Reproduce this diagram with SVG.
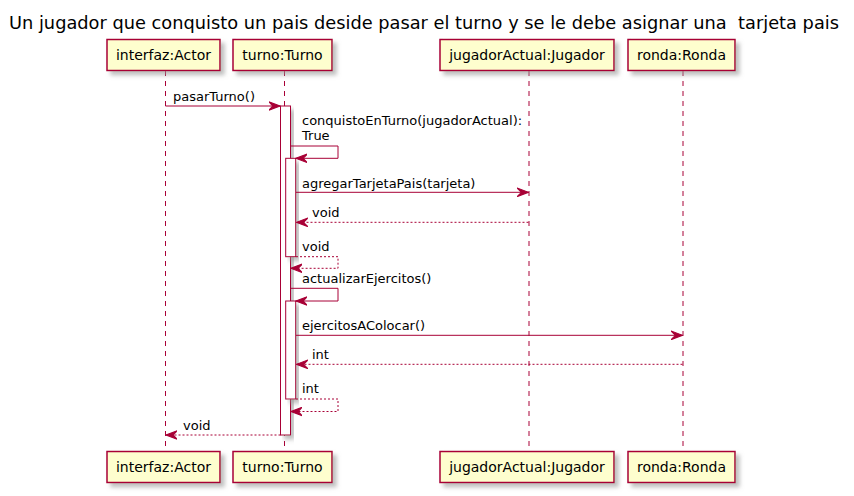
<svg xmlns="http://www.w3.org/2000/svg" width="854" height="496" viewBox="0 0 854 496">
<defs>
<filter id="sh" x="-20%" y="-20%" width="150%" height="160%">
<feGaussianBlur in="SourceAlpha" stdDeviation="2"/>
<feOffset dx="4" dy="4" result="b"/>
<feColorMatrix in="b" type="matrix" values="0 0 0 0 0.3  0 0 0 0 0.3  0 0 0 0 0.3  0 0 0 0.6 0"/>
<feMerge><feMergeNode/><feMergeNode in="SourceGraphic"/></feMerge>
</filter>
<marker id="ah" markerUnits="userSpaceOnUse" markerWidth="12" markerHeight="10" viewBox="0 0 11 8" refX="10.5" refY="4" orient="auto">
<path d="M0,0 L10.5,4 L0,8 L4,4 Z" fill="#A80036" stroke="#A80036" stroke-width="1"/>
</marker>
</defs>
<style>
text{font-family:"DejaVu Sans","Liberation Sans",sans-serif;fill:#000}
.pbox{fill:#FEFECE;stroke:#A80036;stroke-width:1.5;filter:url(#sh)}
.pname{font-size:14px;text-anchor:middle}
.life{stroke:#A80036;stroke-width:1;stroke-dasharray:5,5;fill:none}
.act{fill:#fff;stroke:#A80036;stroke-width:1;filter:url(#sh)}
.msg{stroke:#A80036;stroke-width:1;fill:none;marker-end:url(#ah)}
.ret{stroke-dasharray:2,2}
.lbl{font-size:13px}
</style>
<rect width="854" height="496" fill="#fff"/>
<text x="424" y="29" font-size="18" text-anchor="middle" textLength="830" lengthAdjust="spacingAndGlyphs" xml:space="preserve" style="white-space:pre">Un jugador que conquisto un pais deside pasar el turno y se le debe asignar una  tarjeta pais</text>

<g id="interfaz">
<line class="life" x1="165.5" y1="71" x2="165.5" y2="451"/>
<rect class="pbox" x="107" y="39.5" width="113" height="31"/>
<text class="pname" x="163.5" y="60">interfaz:Actor</text>
<rect class="pbox" x="107" y="451.5" width="113" height="31"/>
<text class="pname" x="163.5" y="472">interfaz:Actor</text>
</g>
<g id="turno">
<line class="life" x1="284.5" y1="71" x2="284.5" y2="451"/>
<rect class="pbox" x="233" y="39.5" width="99" height="31"/>
<text class="pname" x="282.5" y="60">turno:Turno</text>
<rect class="pbox" x="233" y="451.5" width="99" height="31"/>
<text class="pname" x="282.5" y="472">turno:Turno</text>
</g>
<g id="jugadorActual">
<line class="life" x1="529" y1="71" x2="529" y2="451"/>
<rect class="pbox" x="440" y="39.5" width="174" height="31"/>
<text class="pname" x="527" y="60">jugadorActual:Jugador</text>
<rect class="pbox" x="440" y="451.5" width="174" height="31"/>
<text class="pname" x="527" y="472">jugadorActual:Jugador</text>
</g>
<g id="ronda">
<line class="life" x1="683" y1="71" x2="683" y2="451"/>
<rect class="pbox" x="628" y="39.5" width="107" height="31"/>
<text class="pname" x="681.5" y="60">ronda:Ronda</text>
<rect class="pbox" x="628" y="451.5" width="107" height="31"/>
<text class="pname" x="681.5" y="472">ronda:Ronda</text>
</g>

<g id="activations">
<rect class="act" x="280.5" y="106" width="10" height="329"/>
<rect class="act" x="285.7" y="158.3" width="10" height="98.4"/>
<rect class="act" x="285.7" y="301" width="10" height="98"/>
</g>

<g id="connectors">
<line class="msg" x1="165.5" y1="106" x2="280" y2="106"/>
<text class="lbl" x="173" y="101">pasarTurno()</text>

<polyline class="msg" points="290.5,146 338,146 338,158.3 296,158.3"/>
<text class="lbl" x="302" y="125">conquistoEnTurno(jugadorActual):</text>
<text class="lbl" x="302" y="140">True</text>

<line class="msg" x1="296" y1="192.3" x2="528.5" y2="192.3"/>
<text class="lbl" x="302" y="188">agregarTarjetaPais(tarjeta)</text>

<line class="msg ret" x1="528.5" y1="222.3" x2="296.5" y2="222.3"/>
<text class="lbl" x="312" y="217">void</text>

<polyline class="msg ret" points="296,256.7 338,256.7 338,268.3 291,268.3"/>
<text class="lbl" x="302" y="251">void</text>

<polyline class="msg" points="290.5,288.3 338,288.3 338,301 296,301"/>
<text class="lbl" x="302" y="283">actualizarEjercitos()</text>

<line class="msg" x1="296" y1="335.3" x2="682.5" y2="335.3"/>
<text class="lbl" x="302" y="330">ejercitosAColocar()</text>

<line class="msg ret" x1="682.5" y1="364.3" x2="296.5" y2="364.3"/>
<text class="lbl" x="312" y="359">int</text>

<polyline class="msg ret" points="296,399 338,399 338,411.5 291,411.5"/>
<text class="lbl" x="302" y="393">int</text>

<line class="msg ret" x1="280.5" y1="435" x2="166" y2="435"/>
<text class="lbl" x="183" y="430">void</text>
</g>
</svg>
